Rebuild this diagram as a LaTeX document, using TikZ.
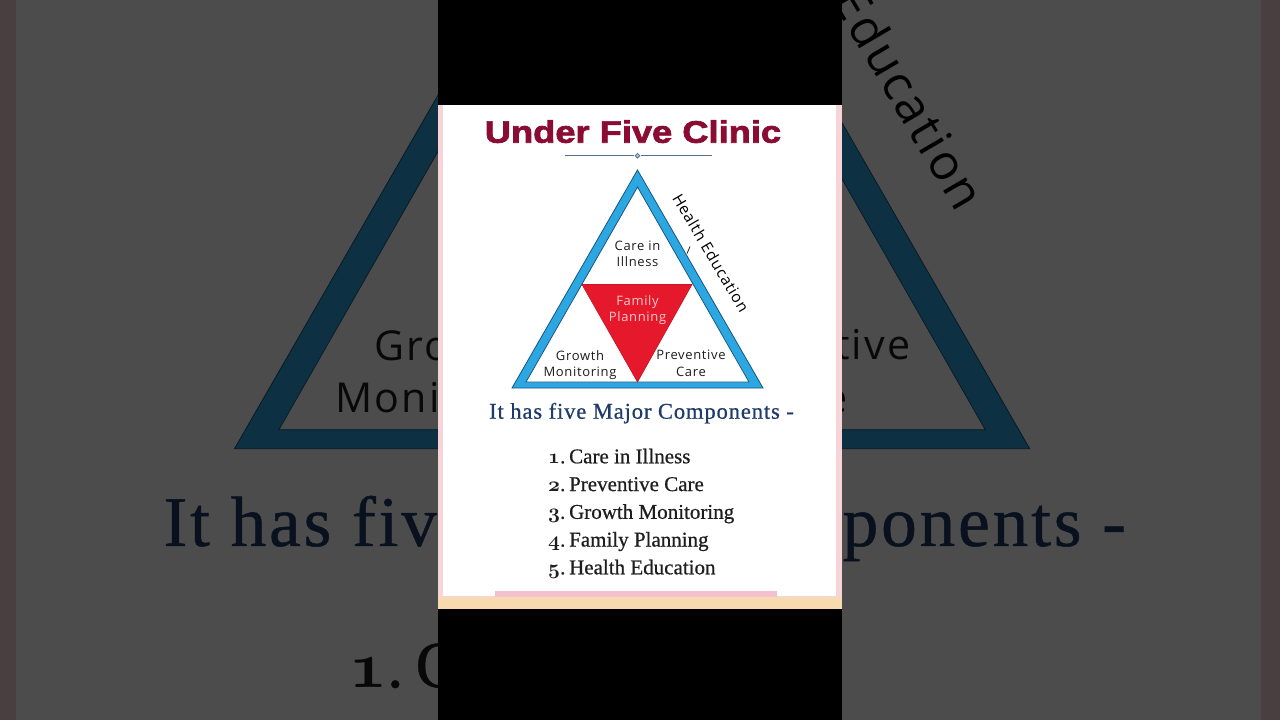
\documentclass[tikz,border=0pt]{standalone}
\usepackage{fontspec}
\setmainfont{Liberation Serif}
\setsansfont{Open Sans}
\newfontfamily\titlefont{Liberation Sans}[FakeStretch=1.17, BoldFeatures={FakeBold=2.4}]
\newfontfamily\labelfont{Open Sans}[LetterSpace=5]
\newfontfamily\headfont{Liberation Serif}[LetterSpace=4, FakeBold=0.7]
\newfontfamily\itemfont{Liberation Serif}[FakeBold=0.6]
\usetikzlibrary{shapes.geometric}
\definecolor{ccrimson}{HTML}{8A0C33}
\definecolor{cblue}{HTML}{2CA7E2}
\definecolor{cblueline}{HTML}{17557F}
\definecolor{cred}{HTML}{E5192B}
\definecolor{cpinktext}{HTML}{F6C9CD}
\definecolor{cnavy}{HTML}{1F3B6B}
\definecolor{cink}{HTML}{1E1E1E}
\definecolor{crule}{HTML}{56708F}
\definecolor{cside}{HTML}{F6D4D7}
\definecolor{cbar}{HTML}{F3C1CD}
\definecolor{cpeach}{HTML}{F8DAB0}
\tikzset{
  ttl/.style={font=\titlefont\bfseries\fontsize{31}{36}\selectfont, text=ccrimson, anchor=base, inner sep=0pt},
  orn/.style={diamond, draw=crule, fill=crule!40, line width=0.8pt, minimum size=5pt, inner sep=0pt},
  lbl/.style={font=\labelfont\fontsize{13}{16.5}\selectfont, text=cink, align=center, inner sep=0pt},
  side/.style={font=\labelfont\fontsize{15.5}{18}\selectfont, text=black, inner sep=0pt, rotate=-59.5},
  head/.style={font=\headfont\fontsize{22.5}{26}\selectfont, text=cnavy, anchor=base, inner sep=0pt},
  item/.style={font=\itemfont\fontsize{21}{25}\selectfont, text=cink, anchor=base west, inner sep=0pt},
}
\newcommand{\osn}[1]{{\boldmath$\mathnormal{#1}$}}
% shapes of the card, #1 = name prefix
\newcommand{\clinicshapes}[1]{%
  % card
  \fill[cside] (438,105) rectangle (842,597);
  \fill[white] (443,105) rectangle (836,596);
  \fill[cbar] (495,591) rectangle (777,597);
  \fill[cpeach] (438,597) rectangle (842,609);
  % rule under the title
  \draw[crule, line width=1pt] (565,155.7) -- (634,155.7) (641,155.7) -- (712,155.7);
  \node[orn] (#1orn) at (637.5,155.7) {};
  % triangles
  \filldraw[fill=cblue, draw=cblueline, line width=0.8pt] (637.5,170) -- (763,388) -- (512,388) -- cycle;
  \filldraw[fill=white, draw=cblueline, line width=0.8pt] (637.5,187) -- (749,382) -- (526,382) -- cycle;
  \filldraw[fill=cred, draw=cred!85!black, line width=0.6pt] (582,284.5) -- (692,284.5) -- (637.5,382) -- cycle;
  \coordinate (#1tka) at (687,253.5);
  \coordinate (#1tkb) at (690,246.5);
  \draw[cink, line width=0.8pt] (#1tka) -- (#1tkb);
}

\begin{document}
\begin{tikzpicture}[x=1pt, y=-1pt]
  \useasboundingbox (0,0) rectangle (1280,720);
  \clip (0,0) rectangle (1280,720);
  % blurred backdrop: the card enlarged and darkened
  \fill[white] (0,0) rectangle (1280,720);
  \begin{scope}[shift={(640,360)}, scale=3.168, shift={(-640,-360)}, transform shape]
    \clinicshapes{bg}
    \node[lbl] (bggrowth) at (580,365) {Grow\phantom{th}\\Monit\phantom{oring}};
    \node[lbl] (bgprev) at (691,363.5) {\phantom{Preven}tive\\\phantom{Car}e};
    \node[side] (bghealth) at (711,253) {\phantom{Health }Education};
    \node[head] (bghead) at (641.5,418.7) {It has five\phantom{ Major Com}ponents -};
    \node[item] (bgitem1) at (548,463.3) {\osn{1}.\kern3.8pt C\phantom{are in Illness}};
  \end{scope}
  \fill[black, opacity=0.7] (0,0) rectangle (1280,720);
  % video column
  \fill[black] (438,0) rectangle (842,720);
  \clinicshapes{}
  % title
  \node[ttl] (title) at (633,142.7) {Under Five Clinic};
  % triangle labels
  \node[lbl] (care) at (637.5,254) {Care in\\Illness};
  \node[lbl, text=cpinktext] (family) at (637.5,310) {Family\\Planning};
  \node[lbl] (growth) at (580,365) {Growth\\Monitoring};
  \node[lbl] (prev) at (691,363.5) {Preventive\\Care};
  \node[side] (health) at (711,253) {Health Education};
  % components
  \node[head] (head) at (641.5,418.7) {It has five Major Components -};
  \foreach \n/\t [count=\k from 0] in {1/Care in Illness, 2/Preventive Care, 3/Growth Monitoring, 4/Family Planning, 5/Health Education}
    \node[item] (item\n) at (548,463.3+27.75*\k) {\osn{\n}.\kern3.8pt\t};
\end{tikzpicture}
\end{document}
